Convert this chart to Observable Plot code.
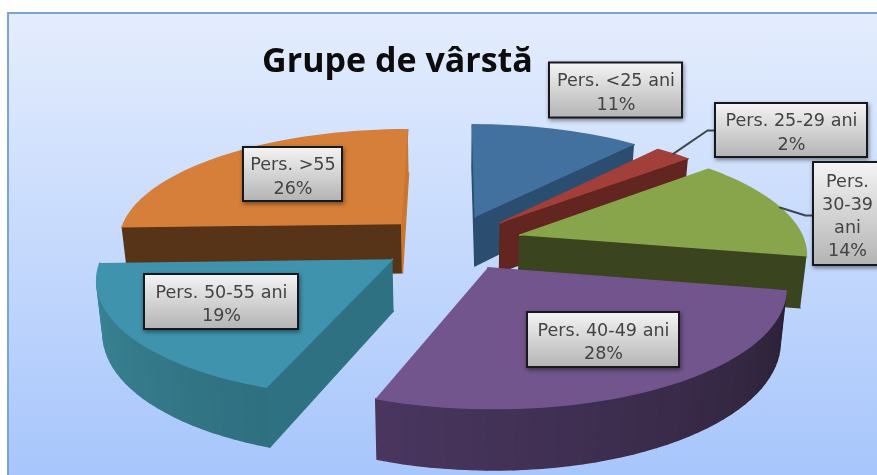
<!DOCTYPE html>
<html><head><meta charset="utf-8">
<script src="https://cdn.jsdelivr.net/npm/d3@7"></script>
<script src="https://cdn.jsdelivr.net/npm/@observablehq/plot@0.6"></script>
<style>
html,body{margin:0;padding:0;background:#fff;overflow:hidden}
#wrap{position:relative;width:877px;height:475px;overflow:hidden}
#panel{position:absolute;left:7px;top:12px;width:880px;height:470px;border:2px solid #7ba3d6;background:linear-gradient(#e4edfd,#a6c5fc)}
#chart{position:absolute;left:0;top:0;filter:blur(.5px)}
svg{background:transparent!important;display:block}
.box rect{filter:drop-shadow(1px 2px 2px rgba(0,0,0,.45))}
</style></head><body>
<div id="wrap"><div id="panel"></div><div id="chart"></div></div>
<script>
const title = "Grupe de vârstă";
const categories = ["Pers. <25 ani","Pers. 25-29 ani","Pers. 30-39 ani","Pers. 40-49 ani","Pers. 50-55 ani","Pers. >55"];
// shares; the labels show them rounded
const values = [11.2,2.4,14.4,27.6,18.9,25.5];
const labelLines = ["Pers. <25 ani\n11%","Pers. 25-29 ani\n2%","Pers.\n30-39\nani\n14%","Pers. 40-49 ani\n28%","Pers. 50-55 ani\n19%","Pers. >55\n26%"];

// styling
const topColors  = ["#42709f","#a33f3b","#88a54b","#72558c","#3f93ad","#d57f3a"];
const edgeColors = ["#2a4d70","#62251f","#3a4520","#4a3660","#2e7182","#573318"];
const edgeEndColors = ["#2a4d70","#62251f","#3a4520","#4a3660","#2e7182","#c9772f"];
const arcA = ["#2a4d70","#62251f","#6f8c3c","#2b2136","#2f7080","#573318"];
const arcB = ["#2a4d70","#62251f","#6f8c3c","#4a3660","#3b8799","#573318"];
// layout of the 3D view
const W=877,H=475,cx=451,cy=242,rx=285,ry=112.4,persp=.145,depth=50.5,taper=.982,explode=.25;
const labelDx=[164.5,340,396,152,-230,-158.5];
const labelDy=[-152,-112,-28.5,97.5,59.5,-68];
const boxW=[133,152,68,152,154,99];
const boxH=[55,54,103,55,55,54];
const leader=[false,true,true,false,false,false];

function proj(X,Y){const s=1/(1-persp*Y);return {x:cx+rx*X*s,y:cy+ry*Y*s,s};}
function low(p){return {x:cx+(p.x-cx)*taper,y:p.y+depth*p.s};}

const arcs=d3.pie().sort(null).startAngle(0).endAngle(2*Math.PI)(values);
const slices=arcs.map((a,i)=>{
  const m=(a.startAngle+a.endAngle)/2;
  const ox=explode*Math.sin(m),oy=-explode*Math.cos(m);
  const pt=t=>proj(ox+Math.sin(t),oy-Math.cos(t));
  const n=Math.max(6,Math.round((a.endAngle-a.startAngle)*24));
  const rim=d3.range(n+1).map(k=>pt(a.startAngle+(a.endAngle-a.startAngle)*k/n));
  return {i,m,apex:proj(ox,oy),rim,mid:pt(m)};
});
const polys=[];
function add(id,color,pts){pts.forEach(p=>polys.push({id,color,x:p.x,y:p.y}));}
let pid=0;
slices.slice().sort((a,b)=>Math.cos(b.m)-Math.cos(a.m)).forEach(sl=>{
  const ring=[sl.apex,...sl.rim,sl.apex];
  const walls=[];
  for(let k=0;k<ring.length-1;k++){
    const a=ring[k],b=ring[k+1];
    if(b.x-a.x>=0) continue;            // only walls turned towards the viewer
    const first=k===0,last=k===ring.length-2;
    const t=(k-1)/(sl.rim.length-1);
    const col=first?edgeColors[sl.i]:last?edgeEndColors[sl.i]:d3.interpolateRgb(arcA[sl.i],arcB[sl.i])(t);
    walls.push({col,pts:[a,b,low(b),low(a)]});
  }
  walls.forEach(w=>add(pid++,w.col,w.pts));
  add(pid++,topColors[sl.i],[sl.apex,...sl.rim]);
});

const labels=categories.map((c,i)=>({
  c,text:labelLines[i],x:cx+labelDx[i],y:cy+labelDy[i],
  x1:cx+labelDx[i]-boxW[i]/2,x2:cx+labelDx[i]+boxW[i]/2,
  y1:cy+labelDy[i]-boxH[i]/2,y2:cy+labelDy[i]+boxH[i]/2
}));
const leaders=[];
slices.forEach(sl=>{ if(!leader[sl.i])return;
  const L=labels[sl.i],ey=L.y+(sl.i===2?1.5:0);
  [{x:sl.mid.x,y:sl.mid.y},{x:L.x1-8,y:ey},{x:L.x1,y:ey}].forEach(p=>leaders.push({id:sl.i,...p}));
});

function defs(){
  const d=d3.create("svg:defs");
  const g=d.append("linearGradient").attr("id","boxGrad").attr("x1",0).attr("x2",0).attr("y1",0).attr("y2",1);
  g.append("stop").attr("offset","0%").attr("stop-color","#f4f4f4");
  g.append("stop").attr("offset","100%").attr("stop-color","#b4b4b4");
  return d.node();
}

const chart=Plot.plot({
  width:W,height:H,margin:0,
  x:{domain:[0,W],range:[0,W],axis:null},
  y:{domain:[0,H],range:[0,H],axis:null},
  color:{type:"identity"},
  style:{background:"transparent"},
  marks:[
    defs,
    Plot.line(polys,{x:"x",y:"y",z:"id",fill:"color",stroke:"color",strokeWidth:1.4,curve:"linear"}),
    Plot.line(leaders,{x:"x",y:"y",z:"id",stroke:"#3d4650",strokeWidth:2}),
    Plot.rect(labels,{x1:"x1",x2:"x2",y1:"y1",y2:"y2",fill:"url(#boxGrad)",stroke:"#16181c",strokeWidth:2,className:"box"}),
    Plot.text(labels,{x:"x",y:"y",text:"text",fill:"#444",fontSize:17.6,lineHeight:1.32,fontFamily:"DejaVu Sans"}),
    Plot.text([title],{x:()=>397,y:()=>61,text:d=>d,fill:"#0c0c0c",fontSize:34,fontWeight:"bold",fontFamily:"Open Sans"})
  ]
});
document.getElementById("chart").append(chart);
</script></body></html>
